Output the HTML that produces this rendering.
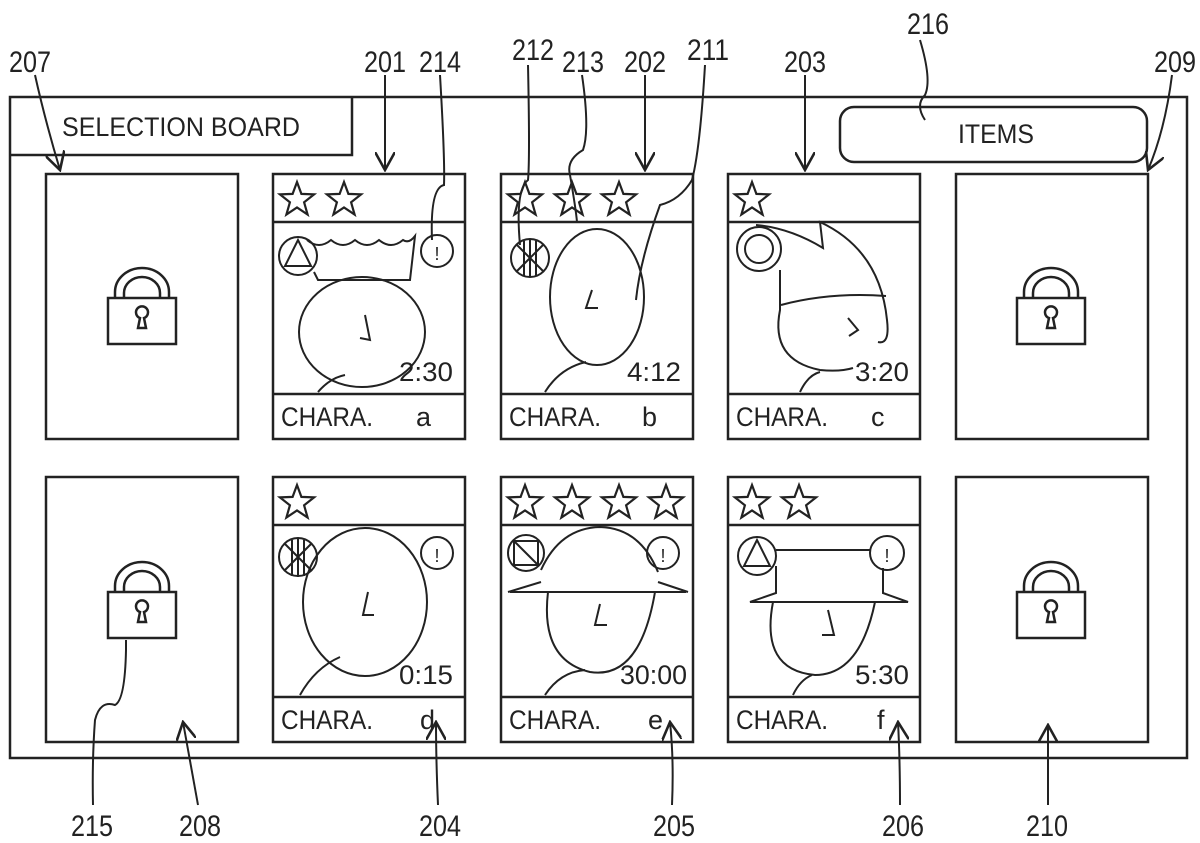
<!DOCTYPE html>
<html><head><meta charset="utf-8"><style>
html,body{margin:0;padding:0;background:#fff}
svg{display:block}
text{font-family:"Liberation Sans",sans-serif;fill:#222}
</style></head><body>
<svg width="1200" height="843" viewBox="0 0 1200 843" xmlns="http://www.w3.org/2000/svg">
<defs>
<path id="st" d="M0,-18 L4.4,-6.1 17.1,-5.6 7.1,2.3 10.6,14.6 0,7.5 -10.6,14.6 -7.1,2.3 -17.1,-5.6 -4.4,-6.1Z" fill="none" stroke="#222" stroke-width="2.2"/>
<g id="lock" fill="none" stroke="#222" stroke-width="2.5">
<path d="M-27,0 V-6 A27,24 0 0 1 27,-6 V0 M-18,0 V-5 A18,16 0 0 1 18,-5 V0"/>
<rect x="-34" y="0" width="68" height="46"/>
<path d="M-4,30 L-2,20 A6,6 0 1 1 2,20 L4,30 Z"/>
</g>
<marker id="ar" viewBox="0 0 10 10" refX="9" refY="5" markerWidth="10" markerHeight="10" orient="auto"><path d="M0,0 L9,5 L0,10" fill="none" stroke="#222" stroke-width="1.3"/></marker>
</defs>
<g fill="none" stroke="#222" stroke-width="2.5">
<rect x="10" y="97" width="1177" height="661"/>
<path d="M10,155 H352 V97"/>
<rect x="840" y="107" width="307" height="55" rx="14"/>
<rect x="46" y="174" width="192" height="265"/>
<rect x="273" y="174" width="192" height="265"/><path d="M273,222H465M273,394H465"/>
<rect x="501" y="174" width="192" height="265"/><path d="M501,222H693M501,394H693"/>
<rect x="728" y="174" width="192" height="265"/><path d="M728,222H920M728,394H920"/>
<rect x="956" y="174" width="192" height="265"/>
<rect x="46" y="477" width="192" height="265"/>
<rect x="273" y="477" width="192" height="265"/><path d="M273,525H465M273,697H465"/>
<rect x="501" y="477" width="192" height="265"/><path d="M501,525H693M501,697H693"/>
<rect x="728" y="477" width="192" height="265"/><path d="M728,525H920M728,697H920"/>
<rect x="956" y="477" width="192" height="265"/>
</g>
<use href="#lock" x="142" y="298"/>
<use href="#lock" x="1051" y="298"/>
<use href="#lock" x="142" y="592"/>
<use href="#lock" x="1051" y="592"/>
<use href="#st" x="297" y="200"/><use href="#st" x="344" y="200"/>
<use href="#st" x="525" y="200"/><use href="#st" x="572" y="200"/><use href="#st" x="619" y="200"/>
<use href="#st" x="752" y="200"/>
<use href="#st" x="297" y="503"/>
<use href="#st" x="525" y="503"/><use href="#st" x="572" y="503"/><use href="#st" x="619" y="503"/><use href="#st" x="666" y="503"/>
<use href="#st" x="752" y="503"/><use href="#st" x="799" y="503"/>
<g fill="none" stroke="#222" stroke-width="2">
<circle cx="298" cy="256" r="19"/><path d="M298,240 L285,266 H311Z"/>
<circle cx="437" cy="251" r="16"/>
<path d="M307,240 q12,10 24,0 q12,10 24,0 q12,10 24,0 q12,10 24,0 q6,4 12,-4 L410,280 H318 L314,272"/>
<ellipse cx="362" cy="332" rx="63" ry="55"/>
<path d="M318,392 Q330,378 345,375"/>
<path d="M365,315 L370,340 L360,338"/>
<circle cx="530" cy="258" r="19"/><path d="M516,244 L544,272 M544,244 L516,272 M524,241 V276 M530,240 V277 M536,241 V276"/>
<ellipse cx="597" cy="297" rx="47" ry="68"/>
<path d="M545,392 Q560,368 586,362"/>
<path d="M592,290 L586,308 L598,308"/>
<circle cx="759" cy="249" r="22"/><circle cx="759" cy="249" r="14"/>
<path d="M756,225 Q790,228 823,248 L820,222 Q880,250 887,320 Q890,345 878,342"/>
<path d="M780,270 L780,310 Q770,360 820,370 Q840,372 853,368"/>
<path d="M781,305 Q830,292 886,296"/>
<path d="M800,392 Q808,375 820,372"/>
<path d="M848,318 L858,330 L849,336"/>
<circle cx="298" cy="557" r="19"/><path d="M284,543 L312,571 M312,543 L284,571 M292,540 V576 M298,539 V577 M304,540 V576"/>
<circle cx="437" cy="553" r="16"/>
<ellipse cx="365" cy="602" rx="62" ry="74"/>
<path d="M300,695 Q315,668 340,657"/>
<path d="M368,592 L363,615 L374,615"/>
<circle cx="526" cy="553" r="18"/><path d="M514,541 H538 V565 H514 Z M514,541 L538,565"/>
<circle cx="663" cy="553" r="16"/>
<path d="M541,570 Q560,528 600,527 Q640,528 658,572"/>
<path d="M508,592 L541,582 M658,582 L688,592 M510,592 H686"/>
<path d="M548,592 Q540,660 590,672 Q640,680 655,592"/>
<path d="M545,695 Q560,672 585,670"/>
<path d="M600,604 L595,625 L607,625"/>
<circle cx="757" cy="556" r="19"/><path d="M757,540 L744,566 H770Z"/>
<circle cx="887" cy="553" r="17"/>
<path d="M776,550 H870 M776,566 V593 L750,602 H908 L883,593 V568"/>
<path d="M773,602 Q760,670 815,675 Q860,675 875,602"/>
<path d="M793,695 Q800,680 812,675"/>
<path d="M828,610 L834,635 L822,635"/>
<path d="M35,75 Q45,120 60,170" marker-end="url(#ar)"/>
<path d="M385,75 V170" marker-end="url(#ar)"/>
<path d="M440,75 Q445,160 444,185 Q430,188 432,240"/>
<path d="M528,65 Q530,160 528,180 Q515,190 520,245"/>
<path d="M582,75 Q590,130 583,150 Q566,160 570,175 Q576,210 577,222"/>
<path d="M645,75 V170" marker-end="url(#ar)"/>
<path d="M705,65 Q700,150 692,180 Q680,200 660,205 Q640,260 636,300"/>
<path d="M805,75 V170" marker-end="url(#ar)"/>
<path d="M920,40 Q932,80 925,95 Q915,105 925,120"/>
<path d="M1172,75 Q1165,130 1148,170" marker-end="url(#ar)"/>
<path d="M126,640 V650 Q125,700 115,705 Q100,700 95,720 Q92,760 93,805"/>
<path d="M198,805 Q190,760 183,722" marker-end="url(#ar)"/>
<path d="M438,805 Q436,760 436,722" marker-end="url(#ar)"/>
<path d="M672,805 Q674,760 670,722" marker-end="url(#ar)"/>
<path d="M900,805 Q900,760 898,722" marker-end="url(#ar)"/>
<path d="M1048,805 V725" marker-end="url(#ar)"/>
</g>
<g font-size="27" lengthAdjust="spacingAndGlyphs">
<text x="62" y="136" textLength="238" lengthAdjust="spacingAndGlyphs">SELECTION BOARD</text>
<text x="958" y="143" textLength="76" lengthAdjust="spacingAndGlyphs">ITEMS</text>
<text x="281" y="426" textLength="92" lengthAdjust="spacingAndGlyphs">CHARA.</text><text x="416" y="426">a</text>
<text x="509" y="426" textLength="92" lengthAdjust="spacingAndGlyphs">CHARA.</text><text x="642" y="426">b</text>
<text x="736" y="426" textLength="92" lengthAdjust="spacingAndGlyphs">CHARA.</text><text x="871" y="426">c</text>
<text x="281" y="729" textLength="92" lengthAdjust="spacingAndGlyphs">CHARA.</text><text x="420" y="729">d</text>
<text x="509" y="729" textLength="92" lengthAdjust="spacingAndGlyphs">CHARA.</text><text x="648" y="729">e</text>
<text x="736" y="729" textLength="92" lengthAdjust="spacingAndGlyphs">CHARA.</text><text x="877" y="729">f</text>
<text x="399" y="381" textLength="54" lengthAdjust="spacingAndGlyphs">2:30</text>
<text x="627" y="381" textLength="54" lengthAdjust="spacingAndGlyphs">4:12</text>
<text x="855" y="381" textLength="54" lengthAdjust="spacingAndGlyphs">3:20</text>
<text x="399" y="684" textLength="54" lengthAdjust="spacingAndGlyphs">0:15</text>
<text x="620" y="684" textLength="67" lengthAdjust="spacingAndGlyphs">30:00</text>
<text x="855" y="684" textLength="54" lengthAdjust="spacingAndGlyphs">5:30</text>
<text x="437" y="562" font-size="18" text-anchor="middle">!</text>
<text x="663" y="562" font-size="18" text-anchor="middle">!</text>
<text x="887" y="562" font-size="18" text-anchor="middle">!</text>
<text x="437" y="260" font-size="18" text-anchor="middle">!</text>
</g>
<g font-size="30">
<text x="9" y="72" textLength="42" lengthAdjust="spacingAndGlyphs">207</text>
<text x="364" y="72" textLength="42" lengthAdjust="spacingAndGlyphs">201</text>
<text x="419" y="72" textLength="42" lengthAdjust="spacingAndGlyphs">214</text>
<text x="512" y="60" textLength="42" lengthAdjust="spacingAndGlyphs">212</text>
<text x="562" y="72" textLength="42" lengthAdjust="spacingAndGlyphs">213</text>
<text x="624" y="72" textLength="42" lengthAdjust="spacingAndGlyphs">202</text>
<text x="687" y="60" textLength="42" lengthAdjust="spacingAndGlyphs">211</text>
<text x="784" y="72" textLength="42" lengthAdjust="spacingAndGlyphs">203</text>
<text x="907" y="34" textLength="42" lengthAdjust="spacingAndGlyphs">216</text>
<text x="1154" y="72" textLength="42" lengthAdjust="spacingAndGlyphs">209</text>
<text x="71" y="836" textLength="42" lengthAdjust="spacingAndGlyphs">215</text>
<text x="179" y="836" textLength="42" lengthAdjust="spacingAndGlyphs">208</text>
<text x="419" y="836" textLength="42" lengthAdjust="spacingAndGlyphs">204</text>
<text x="653" y="836" textLength="42" lengthAdjust="spacingAndGlyphs">205</text>
<text x="882" y="836" textLength="42" lengthAdjust="spacingAndGlyphs">206</text>
<text x="1026" y="836" textLength="42" lengthAdjust="spacingAndGlyphs">210</text>
</g>
</svg>
</body></html>
